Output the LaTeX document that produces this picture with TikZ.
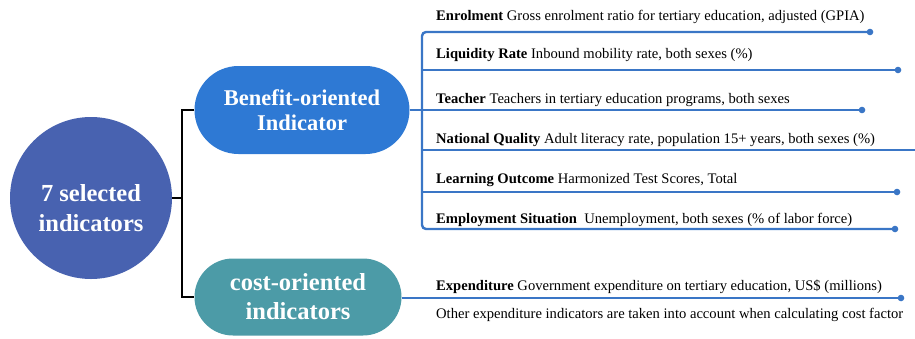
\documentclass[tikz,border=0pt]{standalone}
\usepackage{fontspec}
\setmainfont{Liberation Serif}
\definecolor{rootblue}{RGB}{72,98,176}
\definecolor{benblue}{RGB}{46,121,212}
\definecolor{costteal}{RGB}{76,155,167}
\definecolor{lineblue}{RGB}{58,118,198}
\tikzset{
  pill/.style={rectangle,text=white,align=center,inner sep=0pt},
  item/.style={anchor=base west,inner sep=0pt,font=\fontsize{14.6}{17}\selectfont},
  stub/.style={draw=black,line width=1.6pt},
  branch/.style={draw=lineblue,line width=2.4pt},
  dot/.style={fill=lineblue}
}

\begin{document}
\begin{tikzpicture}[x=1pt,y=-1pt]
        \useasboundingbox (0,0) rectangle (915,338);
        \node[circle,fill=rootblue,minimum size=162pt,inner sep=0pt] (root) at (91,198) {};
        \node[text=white,align=center,font=\fontsize{24.5}{30}\selectfont\bfseries] (rootlabel) at (91,208) {7 selected\\indicators};
        \node[pill,fill=benblue,minimum width=215pt,minimum height=88pt,rounded corners=44pt,
              font=\fontsize{22.5}{25}\selectfont\bfseries] (benefit) at (302,110) {Benefit-oriented\\Indicator};
        \node[pill,fill=costteal,minimum width=207pt,minimum height=77pt,rounded corners=38.5pt,
              font=\fontsize{24.5}{29}\selectfont\bfseries] (cost) at (298,297) {cost-oriented\\indicators};
        \coordinate (fork) at (182,198);
        \draw[stub] (root) -- (fork);
        \draw[stub] (benefit.west) -| (fork) |- (cost.west);

        \node[item] (enrol) at (436,20) {\textbf{Enrolment} Gross enrolment ratio for tertiary education, adjusted (GPIA)};
        \node[item] (liquid) at (436,58) {\textbf{Liquidity Rate} Inbound mobility rate, both sexes (\%)};
        \node[item] (teacher) at (436,103) {\textbf{Teacher} Teachers in tertiary education programs, both sexes};
        \node[item] (quality) at (436,143) {\textbf{National Quality} Adult literacy rate, population 15+ years, both sexes (\%)};
        \node[item] (outcome) at (436,183) {\textbf{Learning Outcome} Harmonized Test Scores, Total};
        \node[item] (employ) at (436,223) {\textbf{Employment Situation}\ \ Unemployment, both sexes (\% of labor force)};
        \node[item] (expend) at (436,290) {\textbf{Expenditure} Government expenditure on tertiary education, US\$ (millions)};
        \node[item] (other) at (436,318) {Other expenditure indicators are taken into account when calculating cost factor};

        \coordinate (e1) at (870,32);
        \coordinate (e2) at (898,70);
        \coordinate (e3) at (862,110);
        \coordinate (e4) at (915,150);
        \coordinate (e5) at (897,192);
        \coordinate (e6) at (895,229);
        \coordinate (e7) at (901,298);
        \coordinate (top) at (422,32);
        \coordinate (bot) at (422,229);
        \draw[branch,rounded corners=4pt] (e1) -- (top) -- (bot) -- (e6);
        \foreach \e in {e2,e3,e4,e5}
          \draw[branch] (\e -| top) -- (\e);
        \draw[branch] (benefit.east) -- (e3 -| top);
        \draw[branch] (cost.east |- e7) -- (e7);
        \foreach \e in {e1,e2,e3,e5,e6,e7}
          \fill[dot] (\e) circle (3.3pt);
\end{tikzpicture}
\end{document}
